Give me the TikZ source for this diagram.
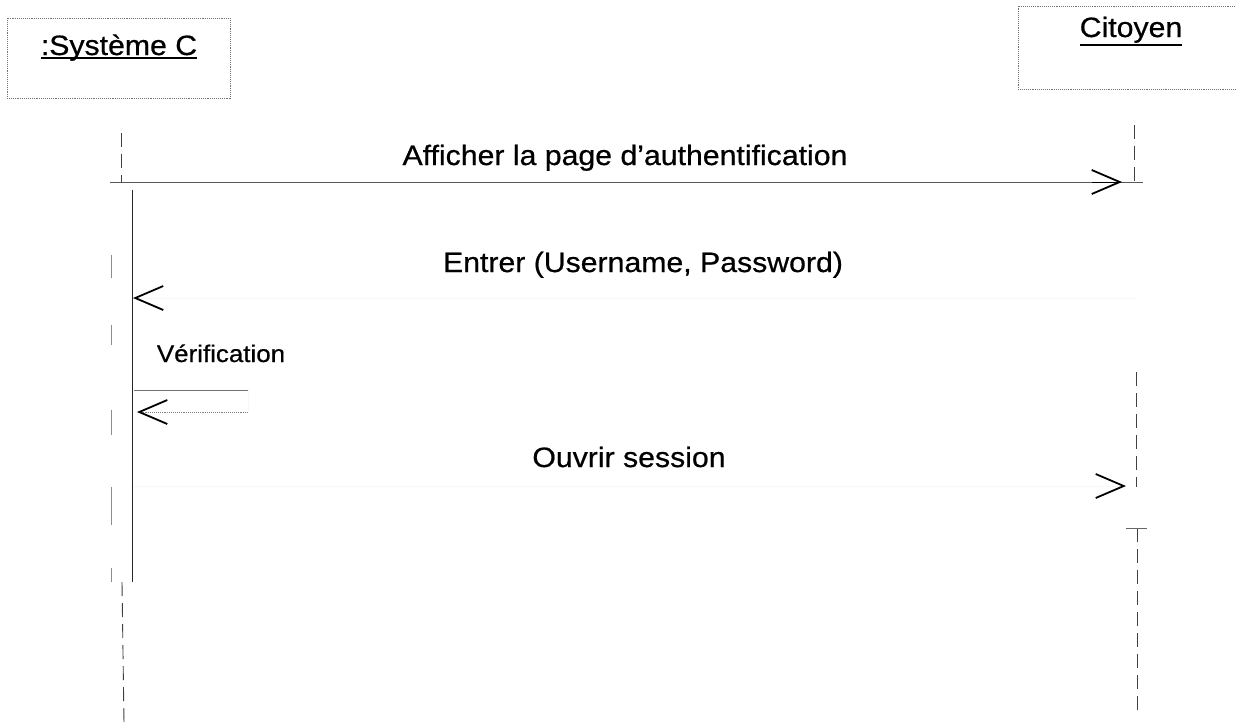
\documentclass[tikz,border=0pt]{standalone}
\usepackage{fontspec}
\setmainfont{Liberation Sans}[FakeStretch=1.08,FakeBold=0.6]
\usetikzlibrary{arrows.meta}
\begin{document}
\begin{tikzpicture}[x=1pt,y=-1pt,
  boxline/.style={draw=black!55, densely dotted, line width=0.9pt},
  title/.style={font=\fontsize{28}{32}\selectfont, anchor=base, inner sep=0pt},
  msg/.style={font=\fontsize{28}{32}\selectfont, anchor=base, inner sep=0pt},
  smallmsg/.style={font=\fontsize{24}{28}\selectfont, anchor=base, inner sep=0pt},
  life/.style={draw=black!75, dash pattern=on 14pt off 7pt, line width=0.9pt},
  actedge/.style={draw=black!85, line width=0.9pt},
  mline/.style={draw=black!65, line width=0.9pt},
  ghost/.style={draw=black!3, line width=0.5pt},
  headtip/.style={-{Straight Barb[length=28pt,width=24pt,line width=1.8pt,color=black]}},
]
\useasboundingbox (0,0) rectangle (1237,723);
\fill[white] (0,0) rectangle (1237,723);

% participant boxes
\node[boxline, draw, minimum width=223pt, minimum height=80pt, inner sep=0pt] (sysbox) at (118.5,58) {};
\coordinate (citA) at (1235,6);
\coordinate (citB) at (1018,6);
\coordinate (citC) at (1018,89);
\coordinate (citD) at (1235,89);
\draw[boxline] (citA) -- (citB) -- (citC) -- (citD);

\node[title] (sys) at (119,55) {:Système C};
\draw[line width=1.6pt] ([yshift=-3pt]sys.base west) -- ([yshift=-3pt]sys.base east);
\node[title] (cit) at (1131,37) {Citoyen};
\draw[line width=1.6pt] ([yshift=-8pt]cit.base west) -- ([yshift=-8pt]cit.base east);

% lifeline of Systeme C
\coordinate (sysL0) at (121,133);
\coordinate (sysL1) at (121,182);
\draw[life] (sysL0) -- (sysL1);
\node[minimum width=20pt, minimum height=392pt, inner sep=0pt] (sysact) at (122,386) {};
\draw[actedge] (sysact.north east) -- (sysact.south east);
\draw[draw=black!45, line width=0.8pt, dash pattern=on 0pt off 65pt on 23pt off 47pt on 20pt off 65pt on 25pt off 52pt on 38pt off 43pt on 15pt off 0pt] (sysact.north west) -- (sysact.south west);
\coordinate (sysL2) at (124,723);
\draw[life] (sysact.south) -- (sysL2);

% lifeline of Citoyen
\coordinate (citL0) at (1134,125);
\coordinate (citL1) at (1134,182);
\coordinate (citL2) at (1136,372);
\coordinate (citL3) at (1136,487);
\coordinate (citL4) at (1137,528);
\coordinate (citL5) at (1137,713);
\coordinate (citTa) at (1126,528);
\coordinate (citTb) at (1147,528);
\draw[life] (citL0) -- (citL1);
\draw[life] (citL2) -- (citL3);
\draw[life] (citL4) -- (citL5);
\draw[draw=black!60, line width=0.8pt] (citTa) -- (citTb);

% message 1
\coordinate (m1s) at (110,182);
\coordinate (m1tip) at (1122,182);
\coordinate (m1e) at (1143,182);
\draw[mline] (m1s) -- (m1e);
\draw[draw=black, headtip] ([xshift=-30pt]m1tip) -- (m1tip);
\node[msg] (t1) at (625,165) {Afficher la page d'authentification};

% message 2
\coordinate (m2s) at (1135,298);
\coordinate (m2tip) at (133,298);
\draw[ghost, headtip] (m2s) -- (m2tip);
\node[msg] (t2) at (643,272) {Entrer (Username, Password)};

% self message
\coordinate (v0) at (134,390);
\coordinate (v1) at (248,390);
\coordinate (v2) at (248,412);
\coordinate (v3) at (137,412);
\draw[mline, draw=black!55] (v0) -- (v1);
\draw[ghost] (v1) -- (v2);
\draw[draw=black!50, densely dotted, line width=0.9pt, headtip] (v2) -- (v3);
\node[smallmsg] (t3) at (221,362) {Vérification};

% message 4
\coordinate (m4s) at (133,486);
\coordinate (m4tip) at (1126,486);
\draw[ghost, headtip] (m4s) -- (m4tip);
\node[msg] (t4) at (629,467) {Ouvrir session};
\end{tikzpicture}
\end{document}
